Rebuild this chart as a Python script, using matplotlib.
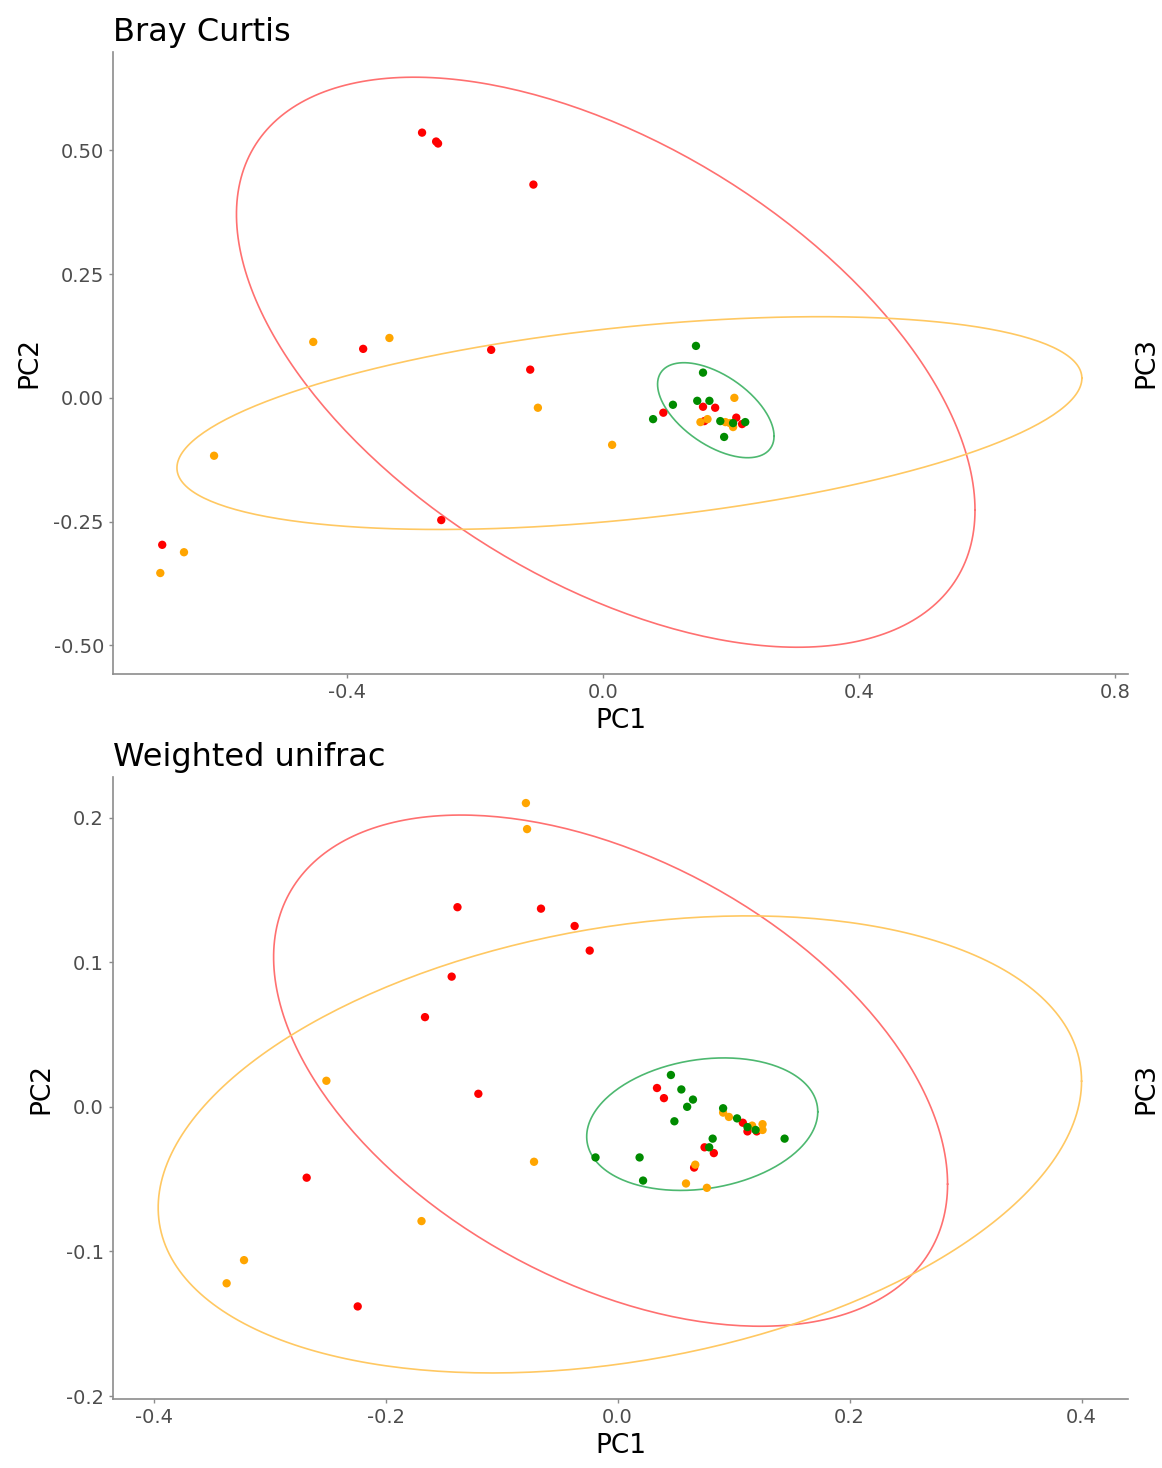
import numpy as np
import matplotlib
matplotlib.use('Agg')
import matplotlib.pyplot as plt

plt.rcParams['font.family'] = ['DejaVu Sans']
plt.rcParams['axes.unicode_minus'] = False

# ---- Bray Curtis (PC1 / PC2) ----
bc_red_x = [-0.283, -0.261, -0.258, -0.109, -0.375, -0.175, -0.114, -0.253, -0.689,
            0.094, 0.156, 0.175, 0.158, 0.208, 0.217]
bc_red_y = [0.536, 0.518, 0.514, 0.431, 0.099, 0.097, 0.057, -0.247, -0.297,
            -0.030, -0.018, -0.020, -0.047, -0.040, -0.053]
bc_orange_x = [-0.453, -0.334, -0.102, 0.014, -0.608, -0.655, -0.692,
               0.205, 0.152, 0.163, 0.191, 0.198, 0.203]
bc_orange_y = [0.113, 0.121, -0.020, -0.095, -0.117, -0.312, -0.354,
               0.000, -0.049, -0.043, -0.049, -0.051, -0.059]
bc_green_x = [0.145, 0.156, 0.109, 0.078, 0.147, 0.166, 0.183, 0.203, 0.222, 0.189]
bc_green_y = [0.105, 0.051, -0.014, -0.043, -0.006, -0.006, -0.047, -0.051, -0.049, -0.079]

# ellipses: centre x, centre y, half-extent x, half-extent y, correlation
bc_ell_red = [0.004, 0.072, 0.577, 0.576, -0.519]
bc_ell_orange = [0.041, -0.051, 0.707, 0.215, 0.421]
bc_ell_green = [0.176, -0.025, 0.091, 0.096, -0.547]

# ---- Weighted unifrac (PC1 / PC2) ----
wu_red_x = [-0.138, -0.066, -0.037, -0.024, -0.143, -0.166, -0.120, -0.268, -0.224,
            0.034, 0.040, 0.075, 0.083, 0.066, 0.108, 0.112, 0.120]
wu_red_y = [0.138, 0.137, 0.125, 0.108, 0.090, 0.062, 0.009, -0.049, -0.138,
            0.013, 0.006, -0.028, -0.032, -0.042, -0.011, -0.017, -0.017]
wu_orange_x = [-0.079, -0.078, -0.251, -0.072, -0.169, -0.322, -0.337,
               0.091, 0.096, 0.116, 0.125, 0.125, 0.067, 0.059, 0.077]
wu_orange_y = [0.210, 0.192, 0.018, -0.038, -0.079, -0.106, -0.122,
               -0.004, -0.007, -0.013, -0.012, -0.016, -0.040, -0.053, -0.056]
wu_green_x = [0.046, 0.055, 0.065, 0.060, 0.049, 0.091, 0.103, 0.112, 0.119, 0.144,
              0.082, 0.079, -0.019, 0.019, 0.022]
wu_green_y = [0.022, 0.012, 0.005, 0.000, -0.010, -0.001, -0.008, -0.014, -0.016, -0.022,
              -0.022, -0.028, -0.035, -0.035, -0.051]

wu_ell_red = [-0.006, 0.025, 0.2905, 0.1767, -0.444]
wu_ell_orange = [0.002, -0.026, 0.398, 0.158, 0.277]
wu_ell_green = [0.073, -0.012, 0.0996, 0.0458, 0.188]

RED, ORANGE, GREEN = '#FF0000', '#FFA500', '#008B00'
ELL_RED, ELL_ORANGE, ELL_GREEN = '#FF7070', '#FFC862', '#4DB870'
GREY = '#8c8c8c'


def ellipse_xy(params, n=300):
    cx, cy, rx, ry, r = params
    t = np.linspace(0, 2 * np.pi, n)
    x = cx + rx * np.cos(t)
    y = cy + ry * (r * np.cos(t) + np.sqrt(1 - r ** 2) * np.sin(t))
    return x, y


def draw_panel(ax, groups, ellipses, title, xlim, ylim, xticks, yticks, ylabels):
    for (ex, col) in ellipses:
        x, y = ellipse_xy(ex)
        ax.plot(x, y, color=col, linewidth=1.2)
    for (gx, gy, col) in groups:
        ax.scatter(gx, gy, s=36, color=col, edgecolors='none', zorder=3)
    ax.set_xlim(*xlim)
    ax.set_ylim(*ylim)
    ax.set_xticks(xticks)
    ax.set_xticklabels([f'{v:.1f}' for v in xticks])
    ax.set_yticks(yticks)
    ax.set_yticklabels(ylabels)
    for s in ['top', 'right']:
        ax.spines[s].set_visible(False)
    for s in ['left', 'bottom']:
        ax.spines[s].set_color(GREY)
        ax.spines[s].set_linewidth(1.2)
    ax.tick_params(colors=GREY, labelcolor='#4d4d4d', labelsize=14, length=3, width=1)
    ax.set_xlabel('PC1', fontsize=19, labelpad=4)
    ax.set_ylabel('PC2', fontsize=19, labelpad=8)
    ax.set_title(title, loc='left', fontsize=23, pad=8)
    ax2 = ax.twinx()
    ax2.set_yticks([])
    for s in ax2.spines.values():
        s.set_visible(False)
    ax2.set_ylabel('PC3', fontsize=19, labelpad=4)


fig = plt.figure(figsize=(11.62, 14.68), dpi=100)
ax_top = fig.add_axes([0.0972, 0.5409, 0.8735, 0.4237])
ax_bot = fig.add_axes([0.0972, 0.0470, 0.8735, 0.4237])

draw_panel(ax_top,
           [(bc_red_x, bc_red_y, RED), (bc_orange_x, bc_orange_y, ORANGE),
            (bc_green_x, bc_green_y, GREEN)],
           [(bc_ell_red, ELL_RED), (bc_ell_orange, ELL_ORANGE), (bc_ell_green, ELL_GREEN)],
           'Bray Curtis', (-0.766, 0.820), (-0.558, 0.699),
           [-0.4, 0.0, 0.4, 0.8], [-0.5, -0.25, 0.0, 0.25, 0.5],
           ['-0.50', '-0.25', '0.00', '0.25', '0.50'])

draw_panel(ax_bot,
           [(wu_red_x, wu_red_y, RED), (wu_orange_x, wu_orange_y, ORANGE),
            (wu_green_x, wu_green_y, GREEN)],
           [(wu_ell_red, ELL_RED), (wu_ell_orange, ELL_ORANGE), (wu_ell_green, ELL_GREEN)],
           'Weighted unifrac', (-0.435, 0.440), (-0.202, 0.228),
           [-0.4, -0.2, 0.0, 0.2, 0.4], [-0.2, -0.1, 0.0, 0.1, 0.2],
           ['-0.2', '-0.1', '0.0', '0.1', '0.2'])

plt.savefig('out.png', dpi=100)
